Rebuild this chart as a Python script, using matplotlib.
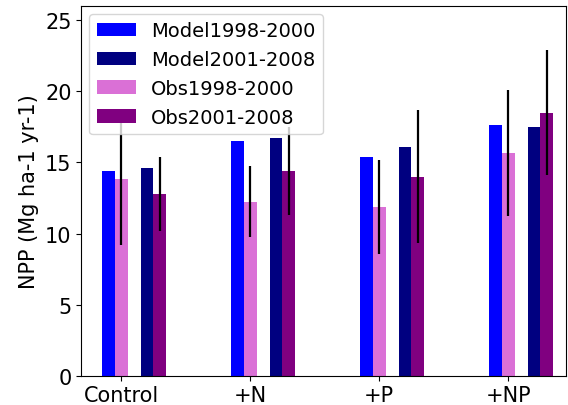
import numpy as np
import matplotlib
matplotlib.use("Agg")
import matplotlib.pyplot as plt

# ── Data ──────────────────────────────────────────────────────
treatments = ["Control", "+N", "+P", "+NP"]
model_9800 = [14.4, 16.5, 15.35, 17.65]
model_0108 = [14.6, 16.7, 16.1, 17.5]
obs_9800 = [13.85, 12.25, 11.85, 15.65]
obs_9800_err = [4.65, 2.5, 3.3, 4.45]
obs_0108 = [12.8, 14.4, 14.0, 18.5]
obs_0108_err = [2.6, 3.1, 4.7, 4.4]

x = np.arange(len(treatments))
w = 0.1

fig, ax = plt.subplots(figsize=(5.68, 4.06), dpi=100)

ax.bar(x - w, model_9800, w, color="blue", label="Model1998-2000")
ax.bar(x + 2 * w, model_0108, w, color="navy", label="Model2001-2008")
ax.bar(x, obs_9800, w, color="orchid", label="Obs1998-2000",
       yerr=obs_9800_err, ecolor="black", error_kw=dict(lw=1.6))
ax.bar(x + 3 * w, obs_0108, w, color="purple", label="Obs2001-2008",
       yerr=obs_0108_err, ecolor="black", error_kw=dict(lw=1.6))

ax.set_xticks(x)
ax.set_xticklabels(treatments, fontsize=15)
ax.tick_params(axis="y", labelsize=15)
ax.set_xlim(-0.31, 3.45)
ax.set_ylim(0, 26)
ax.set_yticks([0, 5, 10, 15, 20, 25])
ax.set_ylabel("NPP (Mg ha-1 yr-1)", fontsize=15)

ax.legend(loc="upper left", fontsize=14, borderaxespad=0.4)

fig.subplots_adjust(left=0.143, right=0.997, top=0.983, bottom=0.072)
fig.savefig("out.png", dpi=100)
